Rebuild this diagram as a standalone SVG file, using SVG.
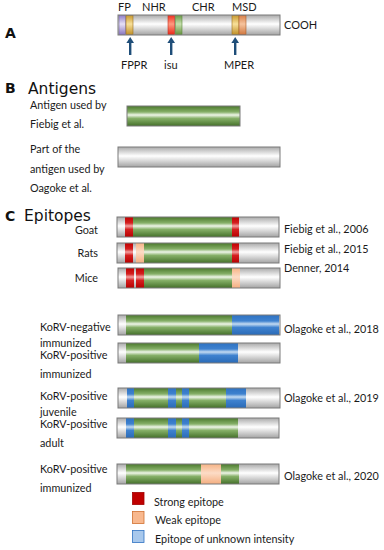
<svg xmlns="http://www.w3.org/2000/svg" width="384" height="550" viewBox="0 0 384 550">
<defs>
<linearGradient id="gGray" x1="0" y1="0" x2="0" y2="1"><stop offset="0" stop-color="#a9a9a9"/><stop offset="0.45" stop-color="#ffffff"/><stop offset="1" stop-color="#a3a3a3"/></linearGradient>
<linearGradient id="gGreen" x1="0" y1="0" x2="0" y2="1"><stop offset="0" stop-color="#4a782c"/><stop offset="0.3" stop-color="#86b068"/><stop offset="0.45" stop-color="#eef5e8"/><stop offset="0.62" stop-color="#86b068"/><stop offset="1" stop-color="#44702a"/></linearGradient>
<linearGradient id="gRed" x1="0" y1="0" x2="0" y2="1"><stop offset="0" stop-color="#c00000"/><stop offset="0.3" stop-color="#d42020"/><stop offset="0.45" stop-color="#f2a0a0"/><stop offset="0.62" stop-color="#d42020"/><stop offset="1" stop-color="#b80000"/></linearGradient>
<linearGradient id="gPeach" x1="0" y1="0" x2="0" y2="1"><stop offset="0" stop-color="#f6b385"/><stop offset="0.45" stop-color="#fcdcc6"/><stop offset="1" stop-color="#f4ae80"/></linearGradient>
<linearGradient id="gBlue" x1="0" y1="0" x2="0" y2="1"><stop offset="0" stop-color="#2e72c2"/><stop offset="0.3" stop-color="#3f82cf"/><stop offset="0.45" stop-color="#c4dbf2"/><stop offset="0.62" stop-color="#3f82cf"/><stop offset="1" stop-color="#2a6ab6"/></linearGradient>
<linearGradient id="gPurple" x1="0" y1="0" x2="0" y2="1"><stop offset="0" stop-color="#9080c8"/><stop offset="0.45" stop-color="#e6e0f6"/><stop offset="1" stop-color="#8a78c0"/></linearGradient>
<linearGradient id="gGold" x1="0" y1="0" x2="0" y2="1"><stop offset="0" stop-color="#c89a30"/><stop offset="0.45" stop-color="#f8e09a"/><stop offset="1" stop-color="#c09028"/></linearGradient>
<linearGradient id="gOrange" x1="0" y1="0" x2="0" y2="1"><stop offset="0" stop-color="#d8804a"/><stop offset="0.45" stop-color="#f6c49e"/><stop offset="1" stop-color="#d07840"/></linearGradient>
<linearGradient id="gRedA" x1="0" y1="0" x2="0" y2="1"><stop offset="0" stop-color="#f03020"/><stop offset="0.45" stop-color="#ff9a80"/><stop offset="1" stop-color="#e82818"/></linearGradient>
<linearGradient id="gGreenA" x1="0" y1="0" x2="0" y2="1"><stop offset="0" stop-color="#6a9a48"/><stop offset="0.45" stop-color="#c8e0b0"/><stop offset="1" stop-color="#64923e"/></linearGradient>
</defs>
<style>
text{font-family:Lato,"Open Sans",sans-serif;font-size:10.8px;fill:#1a1a1a}
.sa{font-size:11px}
.big{font-family:"DejaVu Sans",Verdana,sans-serif;font-size:15.5px;fill:#111}
.pl{font-family:"DejaVu Sans",Verdana,sans-serif;font-size:14px;font-weight:bold;fill:#111}
.r{text-anchor:end}
.bar{fill:url(#gGray)}
.out{fill:none;stroke:#7a7a7a;stroke-width:1}
.gr{fill:url(#gGreen)}
.rd{fill:url(#gRed)}
.pc{fill:url(#gPeach)}
.bl{fill:url(#gBlue)}
.seg{stroke-width:0.6}
.arr{fill:#1f4e79}
</style>

<g id="panelA">
<text class="pl" x="5" y="38">A</text>
<text class="sa" x="118" y="11">FP</text>
<text class="sa" x="142" y="11">NHR</text>
<text class="sa" x="192" y="11">CHR</text>
<text class="sa" x="232" y="11">MSD</text>
<rect class="bar" x="118" y="15" width="162" height="20"/>
<rect x="119" y="15.5" width="6.5" height="19" fill="url(#gPurple)" stroke="#7a68b0" class="seg"/>
<rect x="126" y="15.5" width="7" height="19" fill="url(#gGold)" stroke="#9a7020" class="seg"/>
<rect x="168" y="15.5" width="6.5" height="19" fill="url(#gRedA)" stroke="#c03020" class="seg"/>
<rect x="175.5" y="15.5" width="6.5" height="19" fill="url(#gGreenA)" stroke="#5a8a3a" class="seg"/>
<rect x="232" y="15.5" width="7" height="19" fill="url(#gGold)" stroke="#9a7020" class="seg"/>
<rect x="239" y="15.5" width="7" height="19" fill="url(#gOrange)" stroke="#a85a2a" class="seg"/>
<rect class="out" x="118" y="15" width="162" height="20" stroke="#555"/>
<text class="sa" x="284" y="29">COOH</text>
<g id="arrows">
<rect class="arr" x="129" y="42" width="2.4" height="13"/><polygon class="arr" points="130.2,37 126.4,43 134,43"/>
<rect class="arr" x="170" y="42" width="2.4" height="13"/><polygon class="arr" points="171.2,37 167.4,43 175,43"/>
<rect class="arr" x="234" y="42" width="2.4" height="13"/><polygon class="arr" points="235.2,37 231.4,43 239,43"/>
</g>
<text class="sa" x="121" y="69">FPPR</text>
<text class="sa" x="164" y="69">isu</text>
<text class="sa" x="224" y="69">MPER</text>
</g>

<g id="panelB">
<text class="pl" x="5" y="93">B</text>
<text class="big" x="28" y="94">Antigens</text>
<text x="30" y="109">Antigen used by</text>
<text x="30" y="128">Fiebig et al.</text>
<g id="antigenFiebig"><rect class="gr" x="127" y="106" width="113" height="20"/><rect class="out" x="127" y="106" width="113" height="20" stroke="#5a7a48"/></g>
<text x="30" y="153">Part of the</text>
<text x="30" y="173">antigen used by</text>
<text x="30" y="192">Oagoke et al.</text>
<g id="antigenOlagoke"><rect class="bar" x="118" y="147" width="162" height="20"/><rect class="out" x="118" y="147" width="162" height="20"/></g>
</g>

<g id="panelC">
<text class="pl" x="5" y="220.5">C</text>
<text class="big" x="24" y="220.5">Epitopes</text>

<g id="goat">
<text class="r" x="98" y="234">Goat</text>
<rect class="bar" x="117" y="217" width="162" height="20"/>
<rect class="rd" x="125" y="217" width="8" height="20"/>
<rect class="gr" x="133" y="217" width="99" height="20"/>
<rect class="rd" x="232" y="217" width="7" height="20"/>
<rect class="out" x="117" y="217" width="162" height="20"/>
<text x="284" y="233">Fiebig et al., 2006</text>
</g>
<g id="rats">
<text class="r" x="98" y="257">Rats</text>
<rect class="bar" x="117" y="243" width="162" height="20"/>
<rect class="rd" x="125" y="243" width="8" height="20"/>
<rect class="pc" x="136" y="243" width="8" height="20"/>
<rect class="gr" x="144" y="243" width="88" height="20"/>
<rect class="rd" x="232" y="243" width="7" height="20"/>
<rect class="out" x="117" y="243" width="162" height="20"/>
<text x="284" y="253">Fiebig et al., 2015</text>
</g>
<g id="mice">
<text class="r" x="98" y="282">Mice</text>
<rect class="bar" x="118" y="268" width="162" height="20"/>
<rect class="rd" x="126" y="268" width="8" height="20"/>
<rect class="rd" x="136" y="268" width="8" height="20"/>
<rect class="gr" x="144" y="268" width="88" height="20"/>
<rect class="pc" x="232" y="268" width="8" height="20"/>
<rect class="out" x="118" y="268" width="162" height="20"/>
<text x="284" y="272">Denner, 2014</text>
</g>

<g id="korvNegImm">
<text x="40" y="331">KoRV-negative</text>
<text x="40" y="347">immunized</text>
<rect class="bar" x="118" y="315" width="162" height="20"/>
<rect class="gr" x="126" y="315" width="106" height="20"/>
<rect class="bl" x="232" y="315" width="47" height="20"/>
<rect class="out" x="118" y="315" width="162" height="20"/>
<text x="284" y="333">Olagoke et al., 2018</text>
</g>
<g id="korvPosImm">
<text x="40" y="359">KoRV-positive</text>
<text x="40" y="378">immunized</text>
<rect class="bar" x="118" y="343" width="162" height="20"/>
<rect class="gr" x="126" y="343" width="73" height="20"/>
<rect class="bl" x="199" y="343" width="39" height="20"/>
<rect class="out" x="118" y="343" width="162" height="20"/>
</g>
<g id="korvPosJuv">
<text x="40" y="400">KoRV-positive</text>
<text x="40" y="416">juvenile</text>
<rect class="bar" x="118" y="388" width="162" height="20"/>
<rect class="bl" x="127" y="388" width="7" height="20"/>
<rect class="gr" x="134" y="388" width="34" height="20"/>
<rect class="bl" x="168" y="388" width="8" height="20"/>
<rect class="gr" x="176" y="388" width="6" height="20"/>
<rect class="bl" x="182" y="388" width="7" height="20"/>
<rect class="gr" x="189" y="388" width="37" height="20"/>
<rect class="bl" x="226" y="388" width="20" height="20"/>
<rect class="out" x="118" y="388" width="162" height="20"/>
<text x="284" y="402">Olagoke et al., 2019</text>
</g>
<g id="korvPosAdult">
<text x="40" y="428">KoRV-positive</text>
<text x="40" y="447">adult</text>
<rect class="bar" x="117" y="418" width="162" height="20"/>
<rect class="bl" x="126" y="418" width="8" height="20"/>
<rect class="gr" x="134" y="418" width="34" height="20"/>
<rect class="bl" x="168" y="418" width="8" height="20"/>
<rect class="gr" x="176" y="418" width="6" height="20"/>
<rect class="bl" x="182" y="418" width="7" height="20"/>
<rect class="gr" x="189" y="418" width="49" height="20"/>
<rect class="out" x="117" y="418" width="162" height="20"/>
</g>
<g id="korvPosImm2020">
<text x="40" y="473">KoRV-positive</text>
<text x="40" y="492">immunized</text>
<rect class="bar" x="117" y="464" width="162" height="20"/>
<rect class="gr" x="126" y="464" width="75" height="20"/>
<rect class="pc" x="201" y="464" width="20" height="20"/>
<rect class="gr" x="221" y="464" width="18" height="20"/>
<rect class="out" x="117" y="464" width="162" height="20"/>
<text x="284" y="480">Olagoke et al., 2020</text>
</g>

<g id="legend">
<rect x="132.5" y="492.5" width="11.5" height="12" fill="#c00000" stroke="#a00000" stroke-width="0.8"/>
<text x="154" y="506">Strong epitope</text>
<rect x="132.5" y="511.5" width="11.5" height="12" fill="#f8b88e" stroke="#d07030" stroke-width="0.8"/>
<text x="155" y="524">Weak epitope</text>
<rect x="132.5" y="530.5" width="11.5" height="12" fill="#a8c8ec" stroke="#2e72c2" stroke-width="0.8"/>
<text x="155" y="543">Epitope of unknown intensity</text>
</g>
</g>
</svg>
